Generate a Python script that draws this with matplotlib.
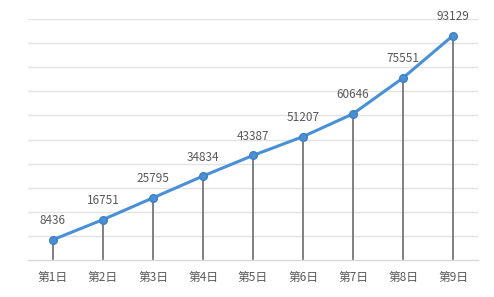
import matplotlib
matplotlib.use('Agg')
import matplotlib.pyplot as plt

plt.rcParams['font.family'] = ['Noto Sans CJK SC', 'DejaVu Sans']

# data
days = ['第1日', '第2日', '第3日', '第4日', '第5日', '第6日', '第7日', '第8日', '第9日']
values = [8436, 16751, 25795, 34834, 43387, 51207, 60646, 75551, 93129]

fig = plt.figure(figsize=(4.94, 2.97), dpi=100)
ax = fig.add_axes([28 / 494, 37 / 297, 450 / 494, 241 / 297])

x = list(range(len(days)))

# grid lines
for g in range(10000, 100001, 10000):
    ax.axhline(g, color='#e3e3e3', lw=1.0, zorder=0)

# drop lines
ax.vlines(x, 0, values, color='#6b6b6b', lw=1.2, zorder=1)

# main line
ax.plot(x, values, color='#4a90d6', lw=2.2, marker='o', markersize=5.5,
        markerfacecolor='#4a90d6', markeredgecolor='#3f7fc4', zorder=3)

for xi, v in zip(x, values):
    ax.annotate(str(v), (xi, v), xytext=(0, 9), textcoords='offset points',
                ha='center', va='bottom', fontsize=8.5, color='#595959')

ax.set_xlim(-0.5, 8.5)
ax.set_ylim(0, 100000)
ax.set_yticks([])
ax.set_xticks(x)
ax.set_xticklabels(days, fontsize=8.5, color='#595959')
ax.tick_params(axis='x', length=0, pad=8)
for s in ['top', 'right', 'left']:
    ax.spines[s].set_visible(False)
ax.spines['bottom'].set_color('#d9d9d9')
ax.spines['bottom'].set_linewidth(1.0)

fig.savefig('out.png', dpi=100)
